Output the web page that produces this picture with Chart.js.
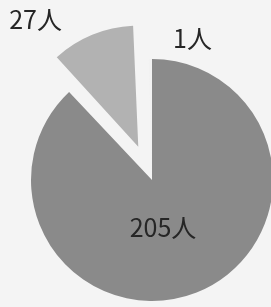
<!DOCTYPE html>
<html>
<head>
<meta charset="utf-8">
<script src="https://cdn.jsdelivr.net/npm/chart.js@4/dist/chart.umd.min.js"></script>
<style>
    html, body { margin: 0; padding: 0; background: #f4f4f4; }
    #wrap { width: 271px; height: 307px; }
</style>
</head>
<body>
<div id="wrap"><canvas id="c" width="271" height="307"></canvas></div>
<script>
// values (people)
const labels = ['205人', '27人', '1人'];
const counts = [205, 27, 1];
const colors = ['#8a8a8a', '#b2b2b2', '#f2f2f2'];
// chart.js v4 draws offset / 4, so 144 -> ~36px
const offsets = [0, 144, 0];
// label anchor: angle (deg, clockwise from top) and distance from centre
const labelAngle = [167, 324, 16];
const labelDist = [49, 198, 147];

// chart.js grows an exploded arc's radius a bit; shrink it back so every slice has the same radius
const sameRadius = {
    id: 'sameRadius',
    afterDatasetUpdate(chart, args) {
        args.meta.data.forEach((arc, i) => {
            const off = offsets[i] / 4;
            const fix = 1 - Math.sin(Math.min(Math.PI, arc.circumference || 0));
            arc.outerRadius = arc.outerRadius - off * fix;
        });
    }
};

const labelPlugin = {
    id: 'sliceLabels',
    afterDatasetsDraw(chart) {
        const ctx = chart.ctx;
        const arcs = chart.getDatasetMeta(0).data;
        ctx.save();
        ctx.font = '25px "Noto Sans CJK JP", "Noto Sans", sans-serif';
        ctx.fillStyle = '#262626';
        ctx.textAlign = 'center';
        ctx.textBaseline = 'middle';
        arcs.forEach((arc, i) => {
            const a = labelAngle[i] * Math.PI / 180;
            const x = arc.x + labelDist[i] * Math.sin(a);
            const y = arc.y - labelDist[i] * Math.cos(a);
            ctx.fillText(labels[i], x, y);
        });
        ctx.restore();
    }
};

new Chart(document.getElementById('c'), {
    type: 'pie',
    data: {
        labels: labels,
        datasets: [{
            data: counts,
            backgroundColor: colors,
            borderWidth: 0,
            offset: offsets
        }]
    },
    options: {
        responsive: false,
        animation: false,
        radius: 121,
        layout: {
            padding: { left: 33, right: 0, top: 53, bottom: 0 }
        },
        plugins: {
            legend: { display: false },
            tooltip: { enabled: false }
        }
    },
    plugins: [sameRadius, labelPlugin]
});
</script>
</body>
</html>
